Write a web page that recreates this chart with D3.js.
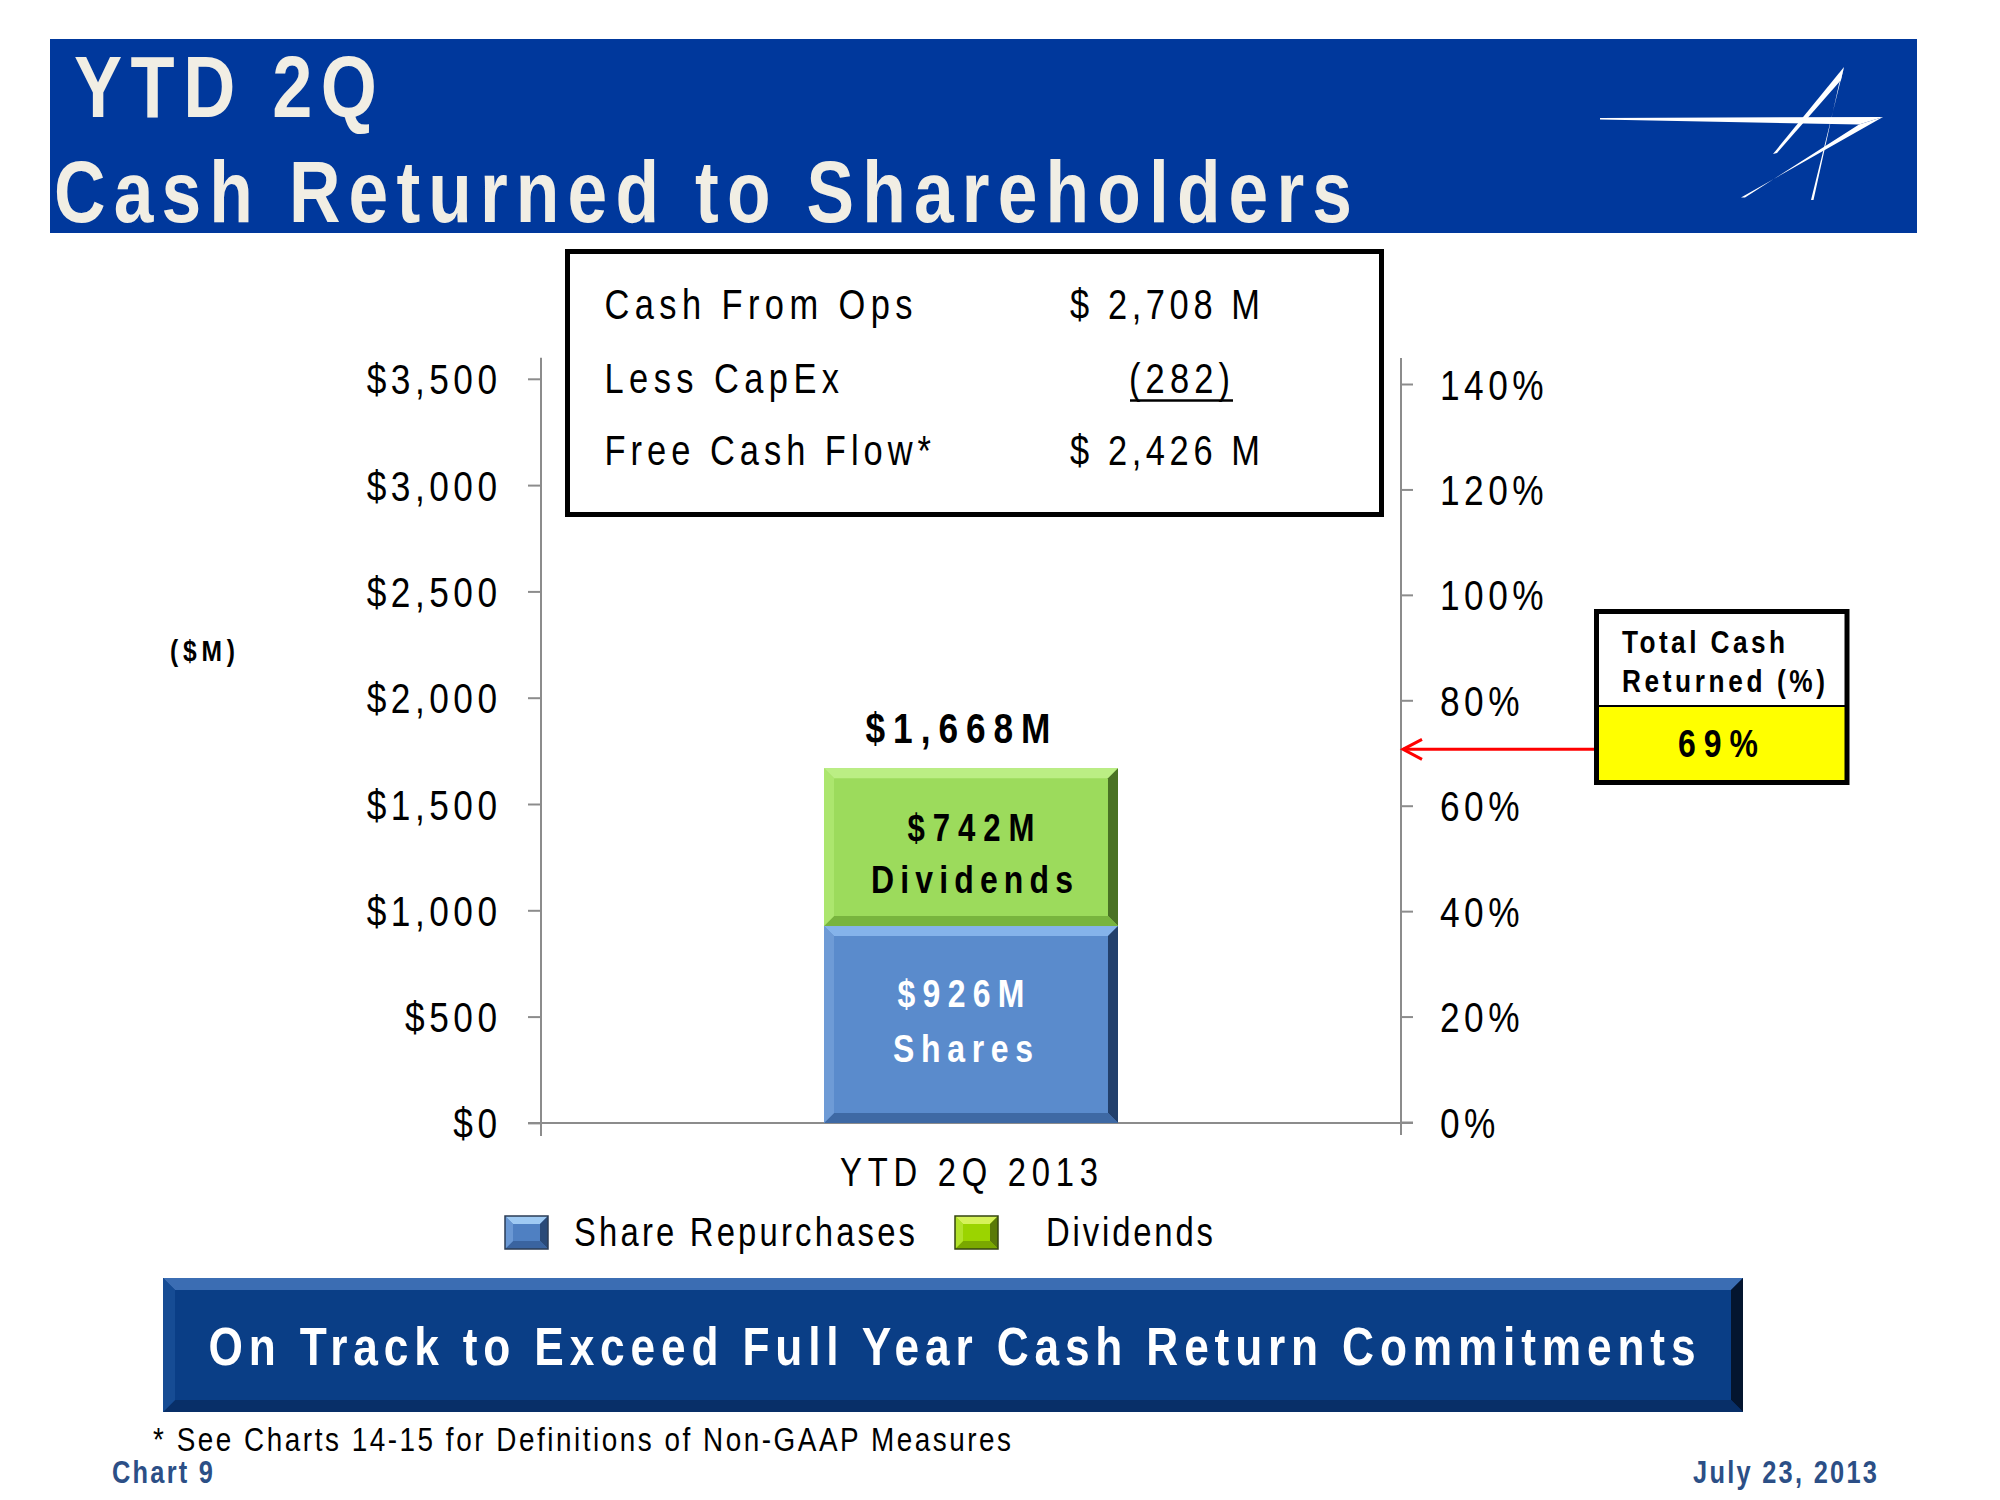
<!DOCTYPE html>
<html><head><meta charset="utf-8">
<script src="https://cdn.jsdelivr.net/npm/d3@7"></script>
<style>html,body{margin:0;padding:0;background:#fff;} svg{display:block;}</style>
</head><body><div id="chart"></div>
<script>
// ---------------- data ----------------
const categories = ["YTD 2Q 2013"];
const seriesNames = ["Share Repurchases", "Dividends"];
const shareRepurchases = [926];
const dividends = [742];
const totalLabels = ["$1,668M"];
const shareLabels = ["$926M", "Shares"];
const dividendLabels = ["$742M", "Dividends"];
const leftTickValues = [0, 500, 1000, 1500, 2000, 2500, 3000, 3500];
const rightTickValues = [0, 20, 40, 60, 80, 100, 120, 140];
const totalReturnedPct = [69];
const arrowLevelPct = [70.7]; // where the red arrow meets the right axis in the source
const cashRowLabels = ["Cash From Ops", "Less CapEx", "Free Cash Flow*"];
const cashRowValues = ["$ 2,708 M", "(282)", "$ 2,426 M"];
const titleLines = ["YTD 2Q", "Cash Returned to Shareholders"];
const bannerText = "On Track to Exceed Full Year Cash Return Commitments";
const footnote = "* See Charts 14-15 for Definitions of Non-GAAP Measures";
const chartNo = "Chart 9";
const dateText = "July 23, 2013";

// ---------------- setup ----------------
const W = 2000, H = 1500;
const FN = "'Liberation Sans Narrow','Arial Narrow','Liberation Sans',Arial,sans-serif";
const SX = 0.82; // horizontal condensation to imitate a narrow face
const svg = d3.select("#chart").append("svg").attr("width", W).attr("height", H)
  .style("font-family", FN);

function txt(g, s, x, y, o) {
  const sx = o.sx || SX;
  const gg = g.append("g").attr("transform", `translate(${x},${y}) scale(${sx},1)`);
  const t = gg.append("text").attr("x", 0).attr("y", 0).text(s)
    .attr("font-size", o.size).attr("font-weight", o.weight || "normal")
    .attr("fill", o.fill || "#000").attr("text-anchor", o.anchor || "start");
  if (o.len) t.attr("textLength", o.len / sx).attr("lengthAdjust", "spacing");
  return t;
}
function poly(g, pts, fill) {
  g.append("polygon").attr("points", pts.map(p => p.join(",")).join(" ")).attr("fill", fill);
}
function bevel(g, x, y, w, h, b, c) {
  g.append("rect").attr("x", x).attr("y", y).attr("width", w).attr("height", h).attr("fill", c.main);
  poly(g, [[x, y], [x + w, y], [x + w - b, y + b], [x + b, y + b]], c.top);
  poly(g, [[x + w, y], [x + w, y + h], [x + w - b, y + h - b], [x + w - b, y + b]], c.right);
  poly(g, [[x, y + h], [x + w, y + h], [x + w - b, y + h - b], [x + b, y + h - b]], c.bottom);
  poly(g, [[x, y], [x, y + h], [x + b, y + h - b], [x + b, y + b]], c.left);
}

// ---------------- title bar ----------------
svg.append("rect").attr("x", 50).attr("y", 39).attr("width", 1867).attr("height", 194).attr("fill", "#00389c");
txt(svg, titleLines[0], 74, 117, { size: 88, weight: "bold", fill: "#f1eee4", len: 303 });
txt(svg, titleLines[1], 54, 222, { size: 87, weight: "bold", fill: "#f1eee4", len: 1298 });
// logo
const logo = svg.append("g");
poly(logo, [[1600, 118], [1883, 117], [1859, 124.5], [1600, 119.5]], "#fff");
poly(logo, [[1883, 117], [1741, 197.5], [1745, 197.5], [1859, 124.5]], "#fff");
poly(logo, [[1844, 67], [1773, 154], [1777, 153], [1841, 80]], "#fff");
poly(logo, [[1844, 67], [1811, 200], [1813.5, 200], [1839, 84]], "#fff");

// ---------------- scales ----------------
const yL = d3.scaleLinear().domain([0, 3500]).range([1122.9, 378.8]);
const yR = d3.scaleLinear().domain([0, 140]).range([1122, 384]);
const x = d3.scaleBand().domain(categories).range([541, 1401]).paddingInner(0).paddingOuter(0.9626);

// ---------------- axes ----------------
const axisColor = "#8c8c8c";
const LS = 4.5 / SX;
const gL = svg.append("g").attr("transform", "translate(541,0)")
  .call(d3.axisLeft(yL).tickValues(leftTickValues).tickSize(13).tickPadding(27)
    .tickFormat(v => "$" + d3.format(",")(v)));
gL.select(".domain").remove();
gL.selectAll(".tick line").attr("stroke", axisColor).attr("stroke-width", 2);
gL.selectAll(".tick text").attr("font-size", 43).attr("font-family", FN).attr("fill", "#000")
  .attr("letter-spacing", LS).attr("x", 0).attr("dy", "0.35em")
  .attr("transform", `translate(-39.5,0) scale(${SX},1)`);

const gR = svg.append("g").attr("transform", "translate(1401,0)")
  .call(d3.axisRight(yR).tickValues(rightTickValues).tickSize(12).tickPadding(27)
    .tickFormat(v => v + "%"));
gR.select(".domain").remove();
gR.selectAll(".tick line").attr("stroke", axisColor).attr("stroke-width", 2);
gR.selectAll(".tick text").attr("font-size", 43).attr("font-family", FN).attr("fill", "#000")
  .attr("letter-spacing", LS).attr("x", 0).attr("dy", "0.35em")
  .attr("transform", `translate(39,0) scale(${SX},1)`);

// axis lines
svg.append("line").attr("x1", 541).attr("x2", 541).attr("y1", yL(3500) - 21).attr("y2", yL(0) + 13)
  .attr("stroke", axisColor).attr("stroke-width", 2);
svg.append("line").attr("x1", 1401).attr("x2", 1401).attr("y1", yR(140) - 26).attr("y2", yR(0) + 13)
  .attr("stroke", axisColor).attr("stroke-width", 2);
svg.append("line").attr("x1", 528).attr("x2", 1413).attr("y1", yL(0)).attr("y2", yL(0))
  .attr("stroke", axisColor).attr("stroke-width", 2);

// x label
categories.forEach(c => {
  txt(svg, c, x(c) + x.bandwidth() / 2 - 2, 1186, { size: 40, anchor: "middle", len: 258 });
});

// ($M)
txt(svg, "($M)", 170, 661, { size: 30, weight: "bold", len: 65 });

// ---------------- bars ----------------
const table = categories.map((c, i) => ({ cat: c, shares: shareRepurchases[i], dividends: dividends[i] }));
const stack = d3.stack().keys(["shares", "dividends"])(table);
const barStyles = {
  shares: { main: "#5a8bcc", top: "#85b3ea", right: "#22406c", bottom: "#3e69a4", left: "#6e9bd6" },
  dividends: { main: "#9cdb5c", top: "#bbee84", right: "#4a7224", bottom: "#78b43e", left: "#ace66e" }
};
const barG = svg.append("g");
stack.forEach(layer => {
  layer.forEach(d => {
    const x0 = x(d.data.cat), y0 = yL(d[1]), h = yL(d[0]) - yL(d[1]);
    bevel(barG, x0, y0, x.bandwidth(), h, 10, barStyles[layer.key]);
  });
});
// bar labels
table.forEach((d, i) => {
  const cx = x(d.cat) + x.bandwidth() / 2;
  const topY = yL(d.shares + d.dividends);
  txt(svg, totalLabels[i], cx - 13, topY - 25, { size: 43, weight: "bold", anchor: "middle", len: 185 });
  const dm = (yL(d.shares) + yL(d.shares + d.dividends)) / 2;
  txt(svg, dividendLabels[0], cx, dm - 6, { size: 38, weight: "bold", anchor: "middle", len: 127 });
  txt(svg, dividendLabels[1], cx + 1, dm + 46, { size: 39, weight: "bold", anchor: "middle", len: 202 });
  const sm = (yL(0) + yL(d.shares)) / 2;
  txt(svg, shareLabels[0], cx - 10, sm - 17, { size: 39, weight: "bold", fill: "#fff", anchor: "middle", len: 127 });
  txt(svg, shareLabels[1], cx - 8, sm + 38, { size: 39, weight: "bold", fill: "#fff", anchor: "middle", len: 140 });
});

// ---------------- legend ----------------
const legG = svg.append("g");
bevel(legG, 505, 1216, 43, 33, 8, { main: "#4f80c2", top: "#9fcaf3", right: "#2a4a78", bottom: "#3a64a0", left: "#6a98d4" });
legG.append("rect").attr("x", 505).attr("y", 1216).attr("width", 43).attr("height", 33)
  .attr("fill", "none").attr("stroke", "#2b3c55").attr("stroke-width", 1.5);
txt(legG, seriesNames[0], 574, 1246, { size: 40, len: 341 });
bevel(legG, 955, 1216, 43, 33, 8, { main: "#9bd400", top: "#d6f25a", right: "#5a7a08", bottom: "#7aa800", left: "#b2e22a" });
legG.append("rect").attr("x", 955).attr("y", 1216).attr("width", 43).attr("height", 33)
  .attr("fill", "none").attr("stroke", "#354510").attr("stroke-width", 1.5);
txt(legG, seriesNames[1], 1046, 1246, { size: 40, len: 167 });

// ---------------- cash box ----------------
const box = svg.append("g");
box.append("rect").attr("x", 567.5).attr("y", 251.5).attr("width", 814).attr("height", 263)
  .attr("fill", "#fff").attr("stroke", "#000").attr("stroke-width", 5);
const rowY = [319, 393, 465];
const labelLens = [308, 234.5, 326.5];
cashRowLabels.forEach((s, i) => txt(box, s, 604.5, rowY[i], { size: 42, len: labelLens[i] }));
cashRowValues.forEach((s, i) => {
  if (i === 1) {
    txt(box, s, 1129, rowY[i], { size: 42, len: 101 });
    box.append("line").attr("x1", 1130).attr("x2", 1233).attr("y1", 400.5).attr("y2", 400.5)
      .attr("stroke", "#000").attr("stroke-width", 2.5);
  } else {
    txt(box, s, 1070, rowY[i], { size: 42, len: 190 });
  }
});

// ---------------- total cash returned box + arrow ----------------
const ay = yR(arrowLevelPct[0]);
svg.append("line").attr("x1", 1594).attr("x2", 1403).attr("y1", ay).attr("y2", ay)
  .attr("stroke", "#ff0000").attr("stroke-width", 3);
svg.append("polyline").attr("points", `1422,${ay - 10} 1403,${ay} 1422,${ay + 10}`)
  .attr("fill", "none").attr("stroke", "#ff0000").attr("stroke-width", 3);
const rb = svg.append("g");
rb.append("rect").attr("x", 1596.5).attr("y", 706).attr("width", 250.5).attr("height", 76.5).attr("fill", "#ffff00");
rb.append("line").attr("x1", 1596).attr("x2", 1847).attr("y1", 706).attr("y2", 706).attr("stroke", "#000").attr("stroke-width", 2);
rb.append("rect").attr("x", 1596.5).attr("y", 611.5).attr("width", 250.5).attr("height", 171)
  .attr("fill", "none").attr("stroke", "#000").attr("stroke-width", 5);
txt(rb, "Total Cash", 1622, 653, { size: 32, weight: "bold", len: 163 });
txt(rb, "Returned (%)", 1622, 692, { size: 32, weight: "bold", len: 203 });
txt(rb, totalReturnedPct[0] + "%", 1718, 757, { size: 39, weight: "bold", anchor: "middle", len: 80 });

// ---------------- banner ----------------
const bn = svg.append("g");
bevel(bn, 163, 1278, 1580, 134, 12, { main: "#0a3e86", top: "#3b6db3", right: "#04152f", bottom: "#082f68", left: "#164c94" });
txt(bn, bannerText, 952, 1365, { size: 54, weight: "bold", fill: "#fff", anchor: "middle", len: 1487 });

// ---------------- footer ----------------
txt(svg, footnote, 153, 1451, { size: 34, len: 858 });
txt(svg, chartNo, 112, 1483, { size: 31, weight: "bold", fill: "#2c4f86", len: 101 });
txt(svg, dateText, 1693, 1483, { size: 31, weight: "bold", fill: "#2c4f86", len: 184 });
</script></body></html>
